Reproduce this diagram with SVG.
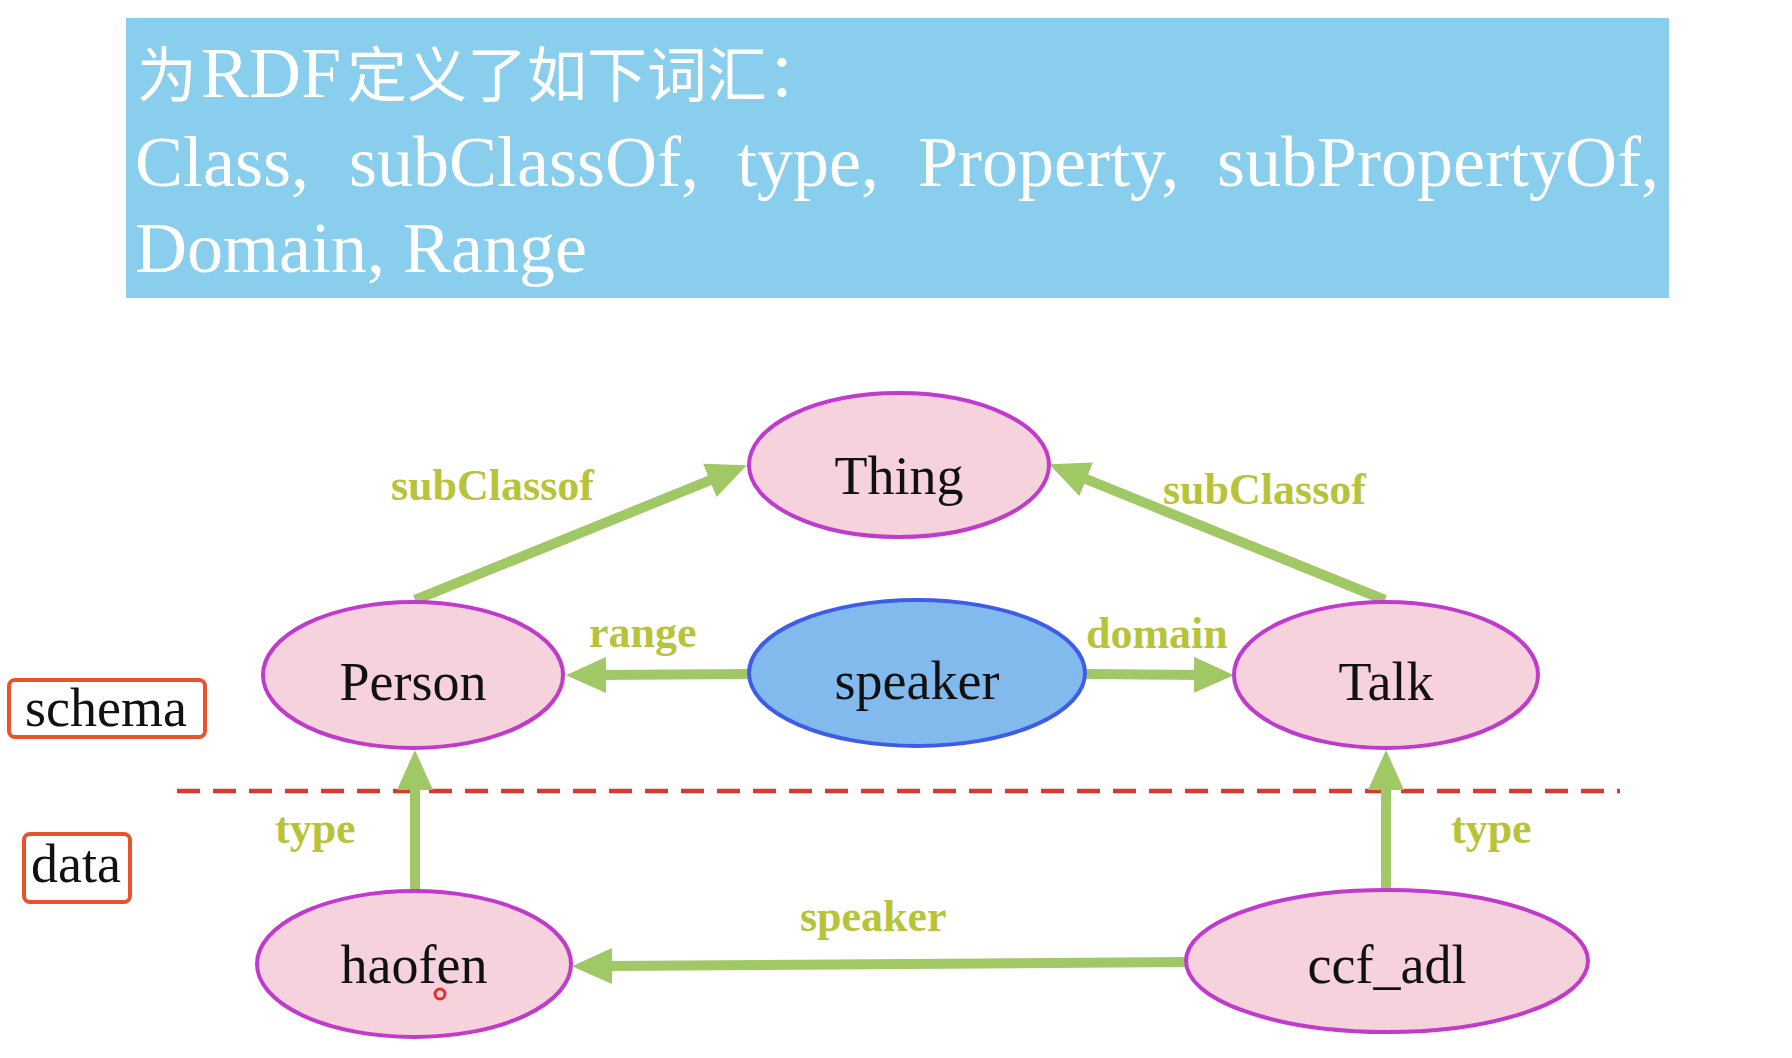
<svg xmlns="http://www.w3.org/2000/svg" width="1792" height="1058" viewBox="0 0 1792 1058">
<style>
.hdr{font-family:"Liberation Serif","Noto Sans CJK SC",serif;font-size:72px;fill:#ffffff}
.cjk{font-family:"Noto Sans CJK SC",serif;font-size:60px;fill:#ffffff}
.cls ellipse{fill:#F6D3DC;stroke:#C03ACB;stroke-width:4}
.prop ellipse{fill:#82BAEE;stroke:#3F5CE6;stroke-width:4}
.nl{font-family:"Liberation Serif",serif;font-size:54px;fill:#111;text-anchor:middle}
.el{font-family:"Liberation Serif",serif;font-size:44px;font-weight:bold;fill:#B7C43A}
.edge{stroke:#A0C864;stroke-width:10;fill:none;marker-end:url(#ah)}
.tag rect{fill:#fff;stroke:#E8532B;stroke-width:4}
.tag text{font-family:"Liberation Serif",serif;font-size:54px;fill:#111}
</style>
<defs>
<marker id="ah" markerUnits="userSpaceOnUse" markerWidth="42" markerHeight="38" refX="8" refY="18" orient="auto">
<path d="M0,0 L40,18 L0,36 z" fill="#A0C864"/>
</marker>
</defs>
<rect width="1792" height="1058" fill="#ffffff"/>
<g id="banner">
<rect x="126" y="18" width="1543" height="280" fill="#8ACEEE"/>
<text y="97"><tspan class="cjk" x="137">为</tspan><tspan class="hdr" dx="4">RDF</tspan><tspan class="cjk" dx="6">定义了如下词汇：</tspan></text>
<text class="hdr" x="135" y="186">Class,</text>
<text class="hdr" x="349" y="186">subClassOf,</text>
<text class="hdr" x="737" y="186">type,</text>
<text class="hdr" x="918" y="186">Property,</text>
<text class="hdr" x="1217" y="186">subPropertyOf,</text>
<text class="hdr" x="135" y="272">Domain, Range</text>
</g>
<line x1="177" y1="791" x2="1620" y2="791" stroke="#D93A2E" stroke-width="4.5" stroke-dasharray="23 13"/>
<g id="edges">
<line class="edge" x1="415" y1="600" x2="717.2" y2="477.3"/>
<line class="edge" x1="1385" y1="600" x2="1078.8" y2="476.2"/>
<line class="edge" x1="749" y1="674" x2="598" y2="675"/>
<line class="edge" x1="1086" y1="674" x2="1202" y2="675"/>
<line class="edge" x1="415" y1="891" x2="415" y2="782"/>
<line class="edge" x1="1386" y1="891" x2="1386" y2="782"/>
<line class="edge" x1="1186" y1="962" x2="604" y2="966"/>
<text class="el" x="391" y="500">subClassof</text>
<text class="el" x="1163" y="504">subClassof</text>
<text class="el" x="589" y="647">range</text>
<text class="el" x="1086" y="648">domain</text>
<text class="el" x="275" y="843">type</text>
<text class="el" x="1451" y="843">type</text>
<text class="el" x="800" y="931">speaker</text>
</g>
<g id="thing" class="cls"><ellipse cx="899" cy="465" rx="150" ry="72"/><text class="nl" x="899" y="494">Thing</text></g>
<g id="person" class="cls"><ellipse cx="413" cy="675" rx="150" ry="73"/><text class="nl" x="413" y="700">Person</text></g>
<g id="speaker" class="prop"><ellipse cx="917" cy="673" rx="168" ry="73"/><text class="nl" x="917" y="699">speaker</text></g>
<g id="talk" class="cls"><ellipse cx="1386" cy="675" rx="152" ry="73"/><text class="nl" x="1386" y="700">Talk</text></g>
<g id="haofen" class="cls"><ellipse cx="414" cy="964" rx="157" ry="73"/><text class="nl" x="414" y="983">haofen</text></g>
<g id="ccf_adl" class="cls"><ellipse cx="1387" cy="961" rx="201" ry="71"/><text class="nl" x="1387" y="983">ccf_adl</text></g>
<g id="schema" class="tag"><rect x="9" y="680" width="196" height="57" rx="6"/><text x="25" y="726">schema</text></g>
<g id="data" class="tag"><rect x="24" y="834" width="106" height="68" rx="6"/><text x="31" y="882">data</text></g>
<circle cx="440" cy="994" r="5" fill="none" stroke="#E03030" stroke-width="3"/>
</svg>
